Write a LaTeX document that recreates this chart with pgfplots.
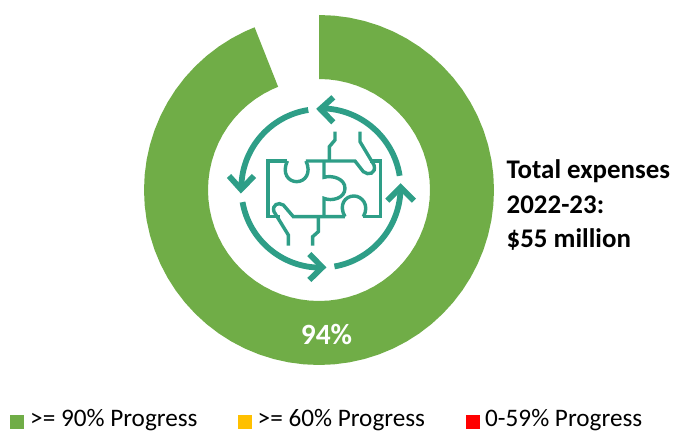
\documentclass[border=0pt]{standalone}
\usepackage{pgfplots}
\pgfplotsset{compat=1.18}
\usepgfplotslibrary{polar}
\usepackage{fontspec}
\setmainfont{Carlito}
\definecolor{gr}{HTML}{70AD47}
\definecolor{teal2}{HTML}{2E9E87}
\definecolor{yel}{HTML}{FFC000}
\begin{document}
\begin{tikzpicture}
\begin{axis}[at={(0,0)},anchor=south west,scale only axis,width=673bp,height=432bp,
  xmin=-319,xmax=354,ymin=-242,ymax=190,hide axis,clip=false]
% ring: 94% of the circle, clockwise from 12 o'clock, radii 175 and 111
\addplot[data cs=polar,fill=gr,draw=none] coordinates {
(90,175)(85,175)(80,175)(75,175)(70,175)(65,175)(60,175)(55,175)(50,175)(45,175)(40,175)(35,175)(30,175)(25,175)(20,175)(15,175)(10,175)(5,175)(0,175)
(-5,175)(-10,175)(-15,175)(-20,175)(-25,175)(-30,175)(-35,175)(-40,175)(-45,175)(-50,175)(-55,175)(-60,175)(-65,175)(-70,175)(-75,175)(-80,175)(-85,175)(-90,175)
(-95,175)(-100,175)(-105,175)(-110,175)(-115,175)(-120,175)(-125,175)(-130,175)(-135,175)(-140,175)(-145,175)(-150,175)(-155,175)(-160,175)(-165,175)(-170,175)(-175,175)(-180,175)
(-185,175)(-190,175)(-195,175)(-200,175)(-205,175)(-210,175)(-215,175)(-220,175)(-225,175)(-230,175)(-235,175)(-240,175)(-245,175)(-248.4,175)
(-248.4,111)(-245,111)(-240,111)(-235,111)(-230,111)(-225,111)(-220,111)(-215,111)(-210,111)(-205,111)(-200,111)(-195,111)(-190,111)(-185,111)
(-180,111)(-175,111)(-170,111)(-165,111)(-160,111)(-155,111)(-150,111)(-145,111)(-140,111)(-135,111)(-130,111)(-125,111)(-120,111)(-115,111)(-110,111)(-105,111)(-100,111)(-95,111)
(-90,111)(-85,111)(-80,111)(-75,111)(-70,111)(-65,111)(-60,111)(-55,111)(-50,111)(-45,111)(-40,111)(-35,111)(-30,111)(-25,111)(-20,111)(-15,111)(-10,111)(-5,111)
(0,111)(5,111)(10,111)(15,111)(20,111)(25,111)(30,111)(35,111)(40,111)(45,111)(50,111)(55,111)(60,111)(65,111)(70,111)(75,111)(80,111)(85,111)(90,111)
} --cycle;
% labels
\node[text=white,font=\bfseries\fontsize{29.5}{29.5}\selectfont,anchor=base,inner sep=0pt] at (axis cs:7.5,-155) {94\%};
\node[font=\bfseries\fontsize{27}{27}\selectfont,anchor=base west,inner sep=0pt] at (axis cs:187.5,11.5) {Total expenses};
\node[font=\bfseries\fontsize{27}{27}\selectfont,anchor=base west,inner sep=0pt] at (axis cs:187.5,-24) {2022-23:};
\node[font=\bfseries\fontsize{27}{27}\selectfont,anchor=base west,inner sep=0pt] at (axis cs:187.5,-58) {\$55 million};
% legend
\fill[gr] (axis cs:-309,-225) rectangle (axis cs:-295,-239);
\fill[yel] (axis cs:-81,-225) rectangle (axis cs:-67,-239);
\fill[red] (axis cs:147,-225) rectangle (axis cs:161,-239);
\node[font=\fontsize{25.3}{25.3}\selectfont,anchor=base west,inner sep=0pt] at (axis cs:-289,-236.8) {>= 90\% Progress};
\node[font=\fontsize{25.3}{25.3}\selectfont,anchor=base west,inner sep=0pt] at (axis cs:-61.5,-236.8) {>= 60\% Progress};
\node[font=\fontsize{25.3}{25.3}\selectfont,anchor=base west,inner sep=0pt] at (axis cs:166,-236.8) {0-59\% Progress};
% icon, in units of a third of a pixel from (200,90)
\begin{scope}[shift={(axis cs:-119,100)},x=0.33333bp,y=0.33333bp,draw=teal2,line cap=butt,line join=miter]
 \begin{scope}[line width=5.8bp]
  \draw (362,-295)++(9:240) arc (9:89:240);
  \draw (362,-295)++(99:238) arc (99:180:238);
  \draw (362,-295)++(190:238) arc (190:270:238);
  \draw (362,-295)++(280:238) arc (280:360:240);
  \draw (400,-22)--(361,-57)--(400,-97);
  \draw (87,-258)--(123,-298)--(162,-258);
  \draw (328,-492)--(367,-532)--(328,-570);
  \draw (562,-332)--(602,-292)--(642,-332);
 \end{scope}
 \begin{scope}[line width=3.4bp]
  \draw (262,-213)--(204,-213)--(204,-380)--(240,-380);
  \draw (262,-213) .. controls (245,-250) and (265,-275) .. (290,-275) .. controls (315,-275) and (335,-250) .. (318,-213);
  \draw (318,-213)--(465,-213)--(490,-245) .. controls (505,-258) and (530,-250) .. (522,-225)--(480,-155)--(480,-125);
  \draw (510,-213)--(541,-213)--(541,-380)--(490,-380);
  \draw (490,-380) .. controls (510,-345) and (485,-318) .. (462,-318) .. controls (435,-318) and (415,-345) .. (435,-380);
  \draw (435,-380)--(280,-380)--(250,-345) .. controls (235,-335) and (215,-345) .. (222,-365)--(265,-435)--(265,-467);
  \draw (372,-213)--(372,-262) .. controls (395,-255) and (435,-265) .. (435,-295) .. controls (435,-325) and (395,-335) .. (372,-325)--(372,-380);
  \draw (388,-213)--(388,-170)--(405,-150)--(405,-125);
  \draw (355,-380)--(355,-425)--(338,-440)--(338,-467);
 \end{scope}
\end{scope}
\end{axis}
\pgfresetboundingbox
\useasboundingbox (0,0) rectangle (673bp,432bp);
\end{tikzpicture}
\end{document}
